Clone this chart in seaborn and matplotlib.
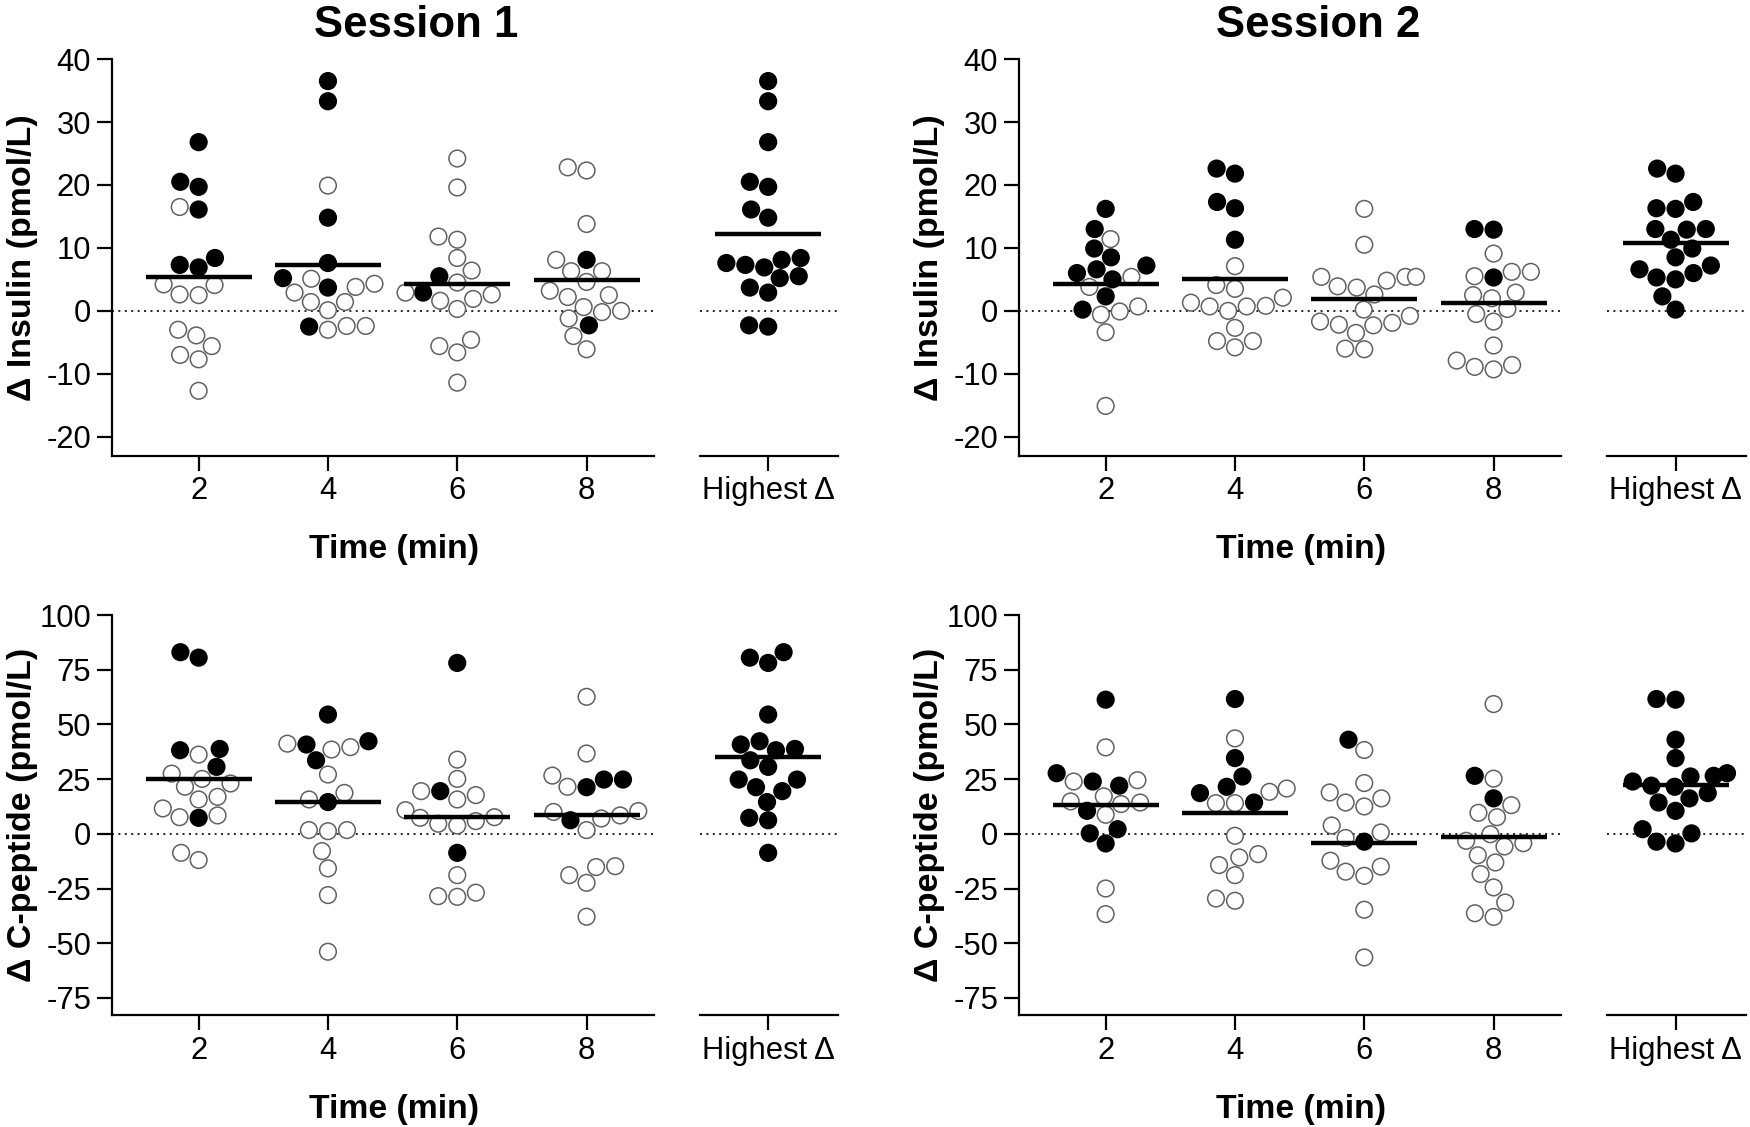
import numpy as np
import pandas as pd
import matplotlib.pyplot as plt
import seaborn as sns

times = ["2", "4", "6", "8"]
highest_label = "Highest Δ"

# "max" = timepoint where that subject had its highest Δ (filled), "rest" = other timepoints (open)
# Session 1 - Δ insulin (pmol/L)
s1_ins_2_max = [26.8, 20.5, 19.7, 16.1, 8.4, 7.3, 6.9]
s1_ins_2_rest = [16.5, 4.2, 4.1, 2.6, 2.5, -3.0, -3.9, -5.6, -7.0, -7.7, -12.7]
s1_ins_4_max = [36.5, 33.3, 14.8, 7.6, 5.2, 3.7, -2.5]
s1_ins_4_rest = [19.9, 5.1, 4.3, 3.8, 2.9, 1.4, 1.4, 0.1, -2.4, -2.4, -3.0]
s1_ins_6_max = [5.5, 2.9]
s1_ins_6_rest = [24.2, 19.6, 11.8, 11.3, 8.4, 6.4, 4.5, 2.9, 2.6, 1.9, 1.6, 0.3, -4.6, -5.6, -6.6, -11.4]
s1_ins_8_max = [8.1, -2.3]
s1_ins_8_rest = [22.8, 22.3, 13.8, 8.1, 6.3, 6.3, 4.6, 3.2, 2.5, 2.2, 0.6, 0.0, -0.2, -1.2, -4.0, -6.1]

# Session 2 - Δ insulin (pmol/L)
s2_ins_2_max = [16.2, 13.0, 9.9, 8.5, 7.2, 6.6, 6.0, 5.0, 2.3, 0.2]
s2_ins_2_rest = [11.4, 5.4, 3.8, 0.7, -0.1, -0.6, -3.4, -15.1]
s2_ins_4_max = [22.6, 21.8, 17.3, 16.3, 11.3]
s2_ins_4_rest = [7.1, 4.1, 3.5, 2.1, 1.3, 0.8, 0.7, 0.7, 0.0, -2.7, -4.8, -4.8, -5.8]
s2_ins_6_max = []
s2_ins_6_rest = [16.2, 10.5, 5.4, 5.4, 5.4, 4.8, 3.9, 3.7, 2.6, 0.2, -0.8, -1.7, -1.9, -2.2, -2.3, -3.5, -6.0, -6.1]
s2_ins_8_max = [13.0, 12.9, 5.3]
s2_ins_8_rest = [9.1, 6.2, 6.2, 5.5, 2.9, 2.5, 2.0, 0.3, -0.5, -1.7, -5.5, -7.9, -8.6, -8.9, -9.3]

# Session 1 - Δ C-peptide (pmol/L)
s1_cp_2_max = [83.0, 80.5, 38.8, 38.2, 30.6, 7.3]
s1_cp_2_rest = [36.2, 27.5, 25.1, 23.0, 21.5, 16.9, 15.7, 11.6, 8.4, 7.6, -8.7, -12.0]
s1_cp_4_max = [54.5, 42.3, 40.8, 33.6, 14.5]
s1_cp_4_rest = [41.2, 39.6, 38.5, 27.1, 18.7, 15.7, 1.7, 1.7, 1.2, -7.9, -15.8, -28.0, -53.9]
s1_cp_6_max = [78.1, 19.5, -8.7]
s1_cp_6_rest = [33.9, 25.1, 19.5, 17.7, 15.7, 10.8, 7.6, 7.3, 5.8, 4.6, 3.8, -18.9, -26.9, -28.5, -28.8]
s1_cp_8_max = [24.8, 24.8, 21.3, 6.2]
s1_cp_8_rest = [62.6, 36.7, 26.6, 21.5, 10.4, 10.0, 8.4, 7.0, 1.7, -14.8, -15.2, -18.9, -22.4, -37.9]

# Session 2 - Δ C-peptide (pmol/L)
s2_cp_2_max = [61.3, 27.7, 23.9, 22.0, 10.5, 2.1, 0.2, -4.4]
s2_cp_2_rest = [39.5, 24.5, 23.9, 17.1, 14.8, 14.3, 13.6, 8.7, -25.0, -36.7]
s2_cp_4_max = [61.6, 34.6, 26.2, 21.5, 18.6, 14.3]
s2_cp_4_rest = [43.6, 20.7, 19.2, 14.0, 14.0, -0.9, -9.3, -10.8, -14.3, -18.9, -29.6, -30.6]
s2_cp_6_max = [43.0, -3.6]
# last value falls below the axis (off-scale), only visible through the mean line
s2_cp_6_rest = [38.3, 23.2, 18.9, 16.2, 14.3, 12.5, 3.8, 0.6, -1.9, -12.3, -15.0, -17.3, -19.2, -34.7, -56.5, -87.7]
s2_cp_8_max = [26.5, 16.2]
s2_cp_8_rest = [59.3, 25.2, 13.1, 9.6, 7.6, -0.2, -3.2, -4.3, -5.8, -9.8, -13.1, -18.4, -24.5, -31.4, -36.3, -38.0]

ins_ticks = [-20, -10, 0, 10, 20, 30, 40]
cp_ticks = [-75, -50, -25, 0, 25, 50, 75, 100]


def panel_frame(groups):
    rows = []
    for t, (mx, rest) in zip(times, groups):
        rows += [(t, v, "max") for v in mx]
        rows += [(t, v, "rest") for v in rest]
    return pd.DataFrame(rows, columns=["time", "value", "kind"])


sns.set_style("ticks")
plt.rcParams["font.family"] = ["Liberation Sans", "DejaVu Sans"]
plt.rcParams["axes.unicode_minus"] = False
plt.rcParams["axes.linewidth"] = 1.6
plt.rcParams["axes.edgecolor"] = "black"
plt.rcParams["axes.labelcolor"] = "black"
plt.rcParams["text.color"] = "black"
plt.rcParams["xtick.color"] = "black"
plt.rcParams["ytick.color"] = "black"

fig = plt.figure(figsize=(17.5, 11.27), dpi=100)


def draw(left, hi_left, bottom, height, groups, ylim, yticks, ylabel):
    ax = fig.add_axes([left, bottom, 0.3096, height])
    ax_hi = fig.add_axes([hi_left, bottom, 0.079, height])
    df = panel_frame(groups)
    hi = df[df["kind"] == "max"].assign(time=highest_label)
    for a, d, order in [(ax, df, times), (ax_hi, hi, [highest_label])]:
        a.axhline(0, color="#222222", lw=1.4, ls=(0, (1, 2.3)), zorder=0)
        sns.swarmplot(data=d, x="time", y="value", hue="kind", order=order,
                      hue_order=["max", "rest"], palette={"max": "black", "rest": "white"},
                      size=12, linewidth=1.1, edgecolor="#606060", legend=False,
                      ax=a, zorder=2)
        sns.pointplot(data=d, x="time", y="value", order=order, estimator="mean",
                      errorbar=None, color="black", markers="_", linestyles="none",
                      markersize=77, markeredgewidth=3.2, ax=a, zorder=3)
        for coll in a.collections:
            fc = coll.get_facecolors()
            if len(fc):
                ec = np.where(fc[:, :1] < 0.5, [[0, 0, 0, 1]], [[0.38, 0.38, 0.38, 1]])
                coll.set_edgecolors(ec)
        a.set_ylim(*ylim)
        a.tick_params(labelsize=22.3, length=11, width=1.6, pad=4, colors="black")
        a.set_xlabel("")
        a.set_ylabel("")
    ax.set_xlim(-0.67, 3.52)
    ax.set_yticks(yticks)
    ax.set_xlabel("Time (min)", fontsize=24.3, fontweight="bold")
    ax.xaxis.set_label_coords(0.52, -0.198)
    ax.set_ylabel(ylabel, fontsize=24.5, fontweight="bold")
    ax.yaxis.set_label_coords(-0.137, 0.5)
    sns.despine(ax=ax)
    ax_hi.set_xlim(-0.53, 0.545)
    ax_hi.set_yticks([])
    sns.despine(ax=ax_hi, left=True)


top_b, top_h = 0.5957, 0.3519
bot_b, bot_h = 0.0994, 0.3549

draw(0.064, 0.400, top_b, top_h,
     [(s1_ins_2_max, s1_ins_2_rest), (s1_ins_4_max, s1_ins_4_rest),
      (s1_ins_6_max, s1_ins_6_rest), (s1_ins_8_max, s1_ins_8_rest)],
     (-23, 40), ins_ticks, "Δ Insulin (pmol/L)")
draw(0.5823, 0.9185, top_b, top_h,
     [(s2_ins_2_max, s2_ins_2_rest), (s2_ins_4_max, s2_ins_4_rest),
      (s2_ins_6_max, s2_ins_6_rest), (s2_ins_8_max, s2_ins_8_rest)],
     (-23, 40), ins_ticks, "Δ Insulin (pmol/L)")
draw(0.064, 0.400, bot_b, bot_h,
     [(s1_cp_2_max, s1_cp_2_rest), (s1_cp_4_max, s1_cp_4_rest),
      (s1_cp_6_max, s1_cp_6_rest), (s1_cp_8_max, s1_cp_8_rest)],
     (-82.8, 100), cp_ticks, "Δ C-peptide (pmol/L)")
draw(0.5823, 0.9185, bot_b, bot_h,
     [(s2_cp_2_max, s2_cp_2_rest), (s2_cp_4_max, s2_cp_4_rest),
      (s2_cp_6_max, s2_cp_6_rest), (s2_cp_8_max, s2_cp_8_rest)],
     (-82.8, 100), cp_ticks, "Δ C-peptide (pmol/L)")

fig.text(0.2377, 0.9674, "Session 1", ha="center", va="baseline", fontsize=31.5, fontweight="bold")
fig.text(0.753, 0.9674, "Session 2", ha="center", va="baseline", fontsize=31.5, fontweight="bold")

fig.savefig("out.png", dpi=100)
